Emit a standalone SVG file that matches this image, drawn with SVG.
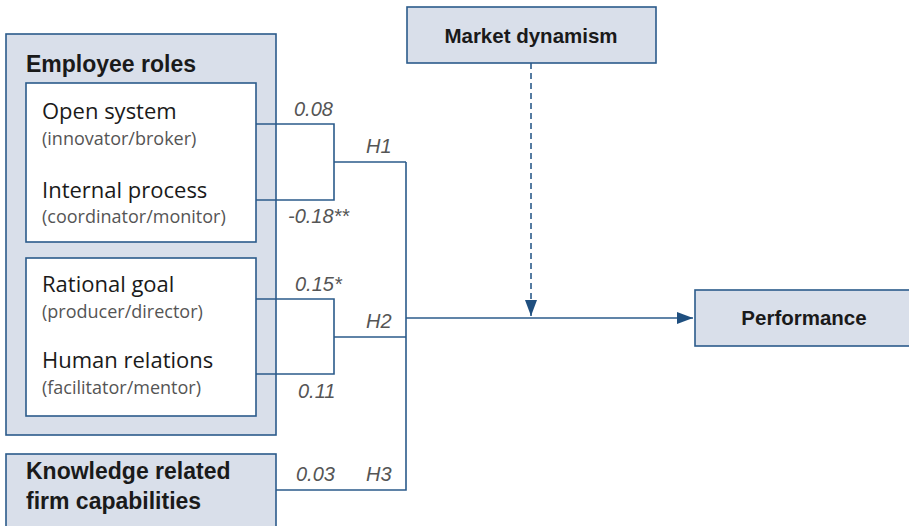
<svg xmlns="http://www.w3.org/2000/svg" width="909" height="526" viewBox="0 0 909 526">
<style>
.box{fill:#d9dfea;stroke:#2b5b8b;stroke-width:1.6}
.inner{fill:#ffffff;stroke:#2b5b8b;stroke-width:1.6}
.ln{fill:none;stroke:#2b5b8b;stroke-width:1.6}
.dash{fill:none;stroke:#2b5b8b;stroke-width:1.6;stroke-dasharray:6 4}
.hd{font-family:"Liberation Sans",Arial,sans-serif;font-weight:bold;fill:#1a1a1a}
.main{font-family:"Open Sans","Liberation Sans",sans-serif;font-size:22px;fill:#1a1a1a}
.sub{font-family:"Open Sans","Liberation Sans",sans-serif;font-size:18px;fill:#555555}
.lab{font-family:"Liberation Sans",Arial,sans-serif;font-size:20px;font-style:italic;fill:#555555}
</style>
<defs>
<marker id="arr" markerWidth="16" markerHeight="12" refX="16" refY="6" orient="auto" markerUnits="userSpaceOnUse">
<path d="M0,0 L16,6 L0,12 Z" fill="#1f4f7f"/>
</marker>
</defs>
<g id="employee-roles">
<rect class="box" x="6" y="34" width="270" height="401"/>
<text class="hd" x="26" y="72" font-size="23">Employee roles</text>
</g>
<g id="open-internal">
<rect class="inner" x="26" y="83" width="230" height="159"/>
<text class="main" x="42" y="119">Open system</text>
<text class="sub" x="42" y="145">(innovator/broker)</text>
<text class="main" x="42" y="198">Internal process</text>
<text class="sub" x="42" y="223">(coordinator/monitor)</text>
</g>
<g id="rational-human">
<rect class="inner" x="26" y="258" width="230" height="158"/>
<text class="main" x="42" y="292">Rational goal</text>
<text class="sub" x="42" y="318">(producer/director)</text>
<text class="main" x="42" y="368">Human relations</text>
<text class="sub" x="42" y="394">(facilitator/mentor)</text>
</g>
<g id="knowledge">
<rect class="box" x="6" y="454" width="270" height="80"/>
<text class="hd" x="26" y="479" font-size="23">Knowledge related</text>
<text class="hd" x="26" y="509" font-size="23">firm capabilities</text>
</g>
<g id="market-dynamism">
<rect class="box" x="407" y="7" width="249" height="56"/>
<text class="hd" x="531" y="43" font-size="20.5" text-anchor="middle">Market dynamism</text>
</g>
<g id="performance">
<rect class="box" x="695" y="290" width="220" height="56"/>
<text class="hd" x="804" y="325" font-size="20.5" text-anchor="middle">Performance</text>
</g>
<g id="connectors">
<path class="ln" d="M256,124 H334 V200 H256 M334,162 H406"/>
<path class="ln" d="M256,299 H334 V374 H256 M334,337 H406"/>
<path class="ln" d="M276,490 H406 V162"/>
<path class="ln" d="M406,318 H693" marker-end="url(#arr)"/>
<path class="dash" d="M531,63 V316" marker-end="url(#arr)"/>
</g>
<g id="labels">
<text class="lab" x="294" y="116">0.08</text>
<text class="lab" x="366" y="153">H1</text>
<text class="lab" x="288" y="223">-0.18**</text>
<text class="lab" x="295" y="291">0.15*</text>
<text class="lab" x="366" y="328">H2</text>
<text class="lab" x="298" y="398">0.11</text>
<text class="lab" x="296" y="481">0.03</text>
<text class="lab" x="366" y="481">H3</text>
</g>
</svg>
